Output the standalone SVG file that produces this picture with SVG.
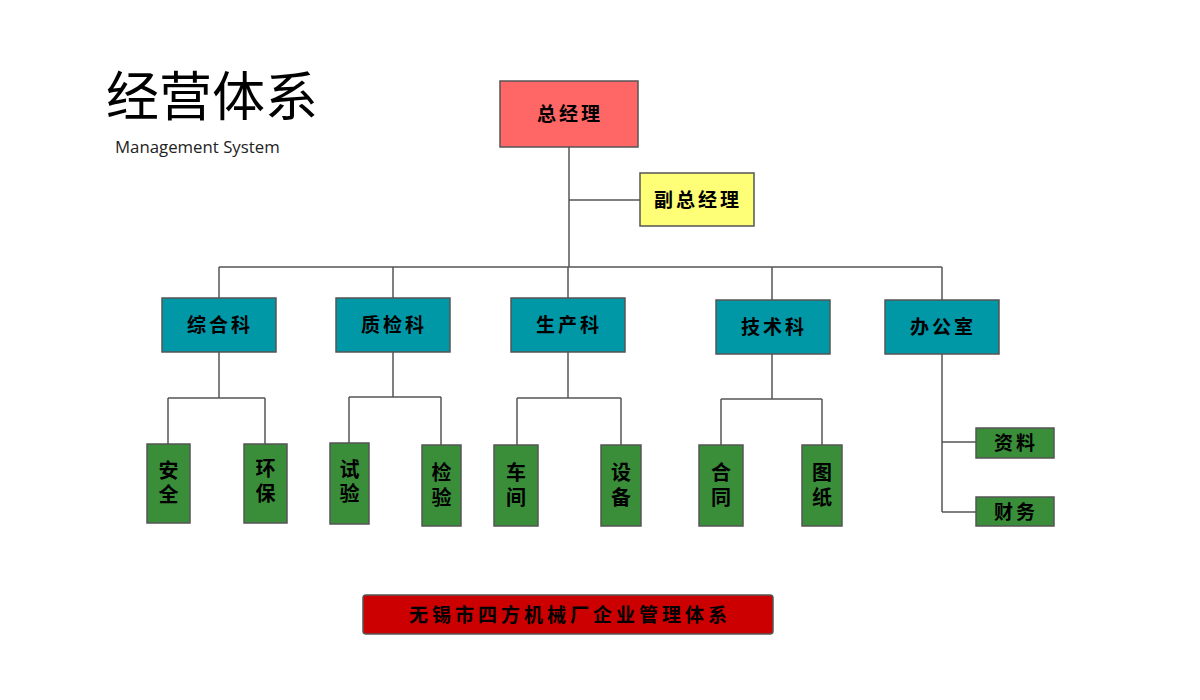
<svg xmlns="http://www.w3.org/2000/svg" width="1200" height="700" viewBox="0 0 1200 700">
<style>
.box{stroke:#555;stroke-width:1.5}
.red{fill:#FF6666}
.yel{fill:#FFFF77}
.teal{fill:#0097A7}
.grn{fill:#3A8E3A}
.t{font-family:"Liberation Sans","Noto Sans CJK SC",sans-serif;font-weight:bold;fill:#000;text-anchor:middle;dominant-baseline:central}
.l2{font-size:19px;letter-spacing:3px}
.l3{font-size:20px}
.conn{fill:none;stroke:#555;stroke-width:1.5}
</style>
<rect width="1200" height="700" fill="#fff"/>
<text x="106" y="116" font-family="Noto Sans CJK SC,sans-serif" font-size="53" fill="#000">经营体系</text>
<text x="115" y="153" font-family="Open Sans,Noto Sans,sans-serif" font-size="16.8" fill="#222">Management System</text>
<g id="connectors">
<path class="conn" d="M569 147V267M569 200H640M219 267H942M219 267V298M393 267V298M568 267V298M772 267V300M942 267V300"/>
<path class="conn" d="M219 352V398M168 398H265M168 398V444M265 398V444"/>
<path class="conn" d="M393 352V397M349 397H441M349 397V443M441 397V445"/>
<path class="conn" d="M568 352V398M517 398H621M517 398V445M621 398V445"/>
<path class="conn" d="M772 354V399M721 399H822M721 399V445M822 399V445"/>
<path class="conn" d="M942 354V512M942 442H976M942 512H976"/>
</g>
<g id="n-zjl"><rect class="box red" x="500" y="81" width="138" height="66"/><text class="t l2" x="570" y="114">总经理</text></g>
<g id="n-fzjl"><rect class="box yel" x="640" y="173" width="114" height="53"/><text class="t l2" x="698" y="200">副总经理</text></g>
<g id="n-zhk"><rect class="box teal" x="162" y="298" width="114" height="54"/><text class="t l2" x="220" y="325">综合科</text></g>
<g id="n-zjk"><rect class="box teal" x="336" y="298" width="114" height="54"/><text class="t l2" x="394" y="325">质检科</text></g>
<g id="n-sck"><rect class="box teal" x="511" y="298" width="114" height="54"/><text class="t l2" x="569" y="325">生产科</text></g>
<g id="n-jsk"><rect class="box teal" x="716" y="300" width="114" height="54"/><text class="t l2" x="774" y="327">技术科</text></g>
<g id="n-bgs"><rect class="box teal" x="885" y="300" width="114" height="54"/><text class="t l2" x="943" y="327">办公室</text></g>
<g id="n-aq"><rect class="box grn" x="147" y="444" width="43" height="79"/><text class="t l3" x="168.5" y="471">安</text><text class="t l3" x="168.5" y="495">全</text></g>
<g id="n-hb"><rect class="box grn" x="244" y="444" width="43" height="79"/><text class="t l3" x="265.5" y="469">环</text><text class="t l3" x="265.5" y="494">保</text></g>
<g id="n-sy"><rect class="box grn" x="330" y="443" width="39" height="81"/><text class="t l3" x="349.5" y="470">试</text><text class="t l3" x="349.5" y="494">验</text></g>
<g id="n-jy"><rect class="box grn" x="422" y="445" width="39" height="81"/><text class="t l3" x="441.5" y="473">检</text><text class="t l3" x="441.5" y="498">验</text></g>
<g id="n-cj"><rect class="box grn" x="494" y="445" width="44" height="81"/><text class="t l3" x="516" y="473">车</text><text class="t l3" x="516" y="498">间</text></g>
<g id="n-sb"><rect class="box grn" x="601" y="445" width="40" height="81"/><text class="t l3" x="621" y="473">设</text><text class="t l3" x="621" y="498">备</text></g>
<g id="n-ht"><rect class="box grn" x="699" y="445" width="44" height="81"/><text class="t l3" x="721" y="473">合</text><text class="t l3" x="721" y="498">同</text></g>
<g id="n-tz"><rect class="box grn" x="802" y="445" width="40" height="81"/><text class="t l3" x="822" y="473">图</text><text class="t l3" x="822" y="498">纸</text></g>
<g id="n-zl"><rect class="box grn" x="976" y="428" width="78" height="30"/><text class="t l2" x="1016" y="443">资料</text></g>
<g id="n-cw"><rect class="box grn" x="976" y="497" width="78" height="29"/><text class="t l2" x="1016" y="512">财务</text></g>
<g id="n-banner"><rect x="363" y="595" width="410" height="39" rx="3" fill="#CC0000" stroke="#555" stroke-width="1.5"/><text class="t" x="570" y="615" font-size="19" letter-spacing="4" font-family="Noto Sans CJK SC,sans-serif">无锡市四方机械厂企业管理体系</text></g>
</svg>
